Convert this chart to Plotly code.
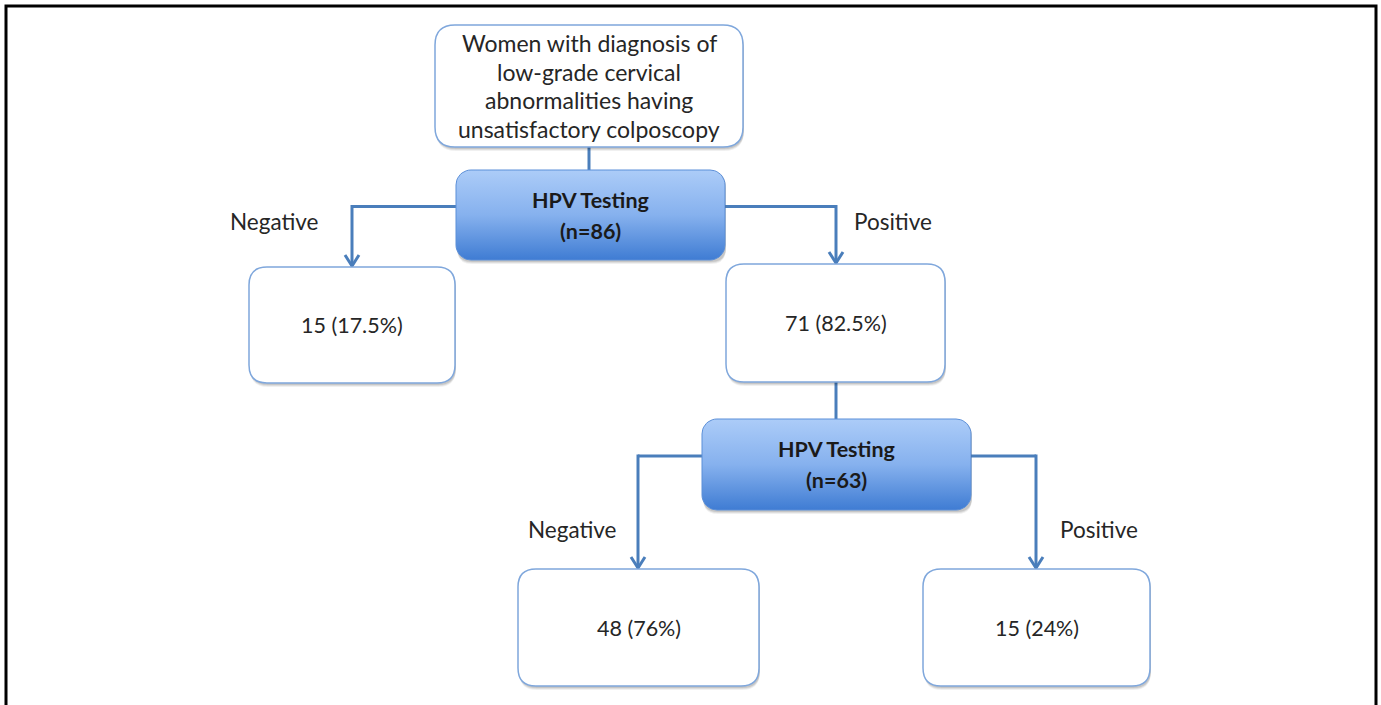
import math
import plotly.graph_objects as go

# ---------------- data ----------------
root_lines = ["Women with diagnosis of", "low-grade cervical",
              "abnormalities having", "unsatisfactory colposcopy"]
test_title = "HPV Testing"
test_n = [86, 63]
result_counts = [15, 71, 48, 15]
result_pcts = ["17.5%", "82.5%", "76%", "24%"]
branch_labels = ["Negative", "Positive", "Negative", "Positive"]

# ---------------- layout (pixel geometry) ----------------
W, H = 1381, 705
root_box = (435, 25, 743, 147)
test_boxes = [(456, 170, 725, 260), (702, 419, 971, 510)]
result_boxes = [(249, 267, 455, 383), (726, 264, 945, 382),
                (518, 569, 759, 686), (923, 569, 1150, 686)]
branch_x = [352, 836, 638, 1036]          # x of the down-going arrow legs
branch_label_pos = [(274, 221), (893, 221), (572, 529), (1099, 529)]

FONT = "Lato, 'Open Sans', sans-serif"
TXT = "#262626"
LINE = "#4a7ebb"
BOX_EDGE = "#7fa7dc"


def rr_path(x0, y0, x1, y1, r):
    return (f"M{x0+r},{y0} L{x1-r},{y0} Q{x1},{y0} {x1},{y0+r} "
            f"L{x1},{y1-r} Q{x1},{y1} {x1-r},{y1} L{x0+r},{y1} "
            f"Q{x0},{y1} {x0},{y1-r} L{x0},{y0+r} Q{x0},{y0} {x0+r},{y0} Z")


def rr_points(x0, y0, x1, y1, r, n=10):
    xs, ys = [], []
    corners = [(x1 - r, y0 + r, -90, 0), (x1 - r, y1 - r, 0, 90),
               (x0 + r, y1 - r, 90, 180), (x0 + r, y0 + r, 180, 270)]
    for cx, cy, a0, a1 in corners:
        for i in range(n + 1):
            a = math.radians(a0 + (a1 - a0) * i / n)
            xs.append(cx + r * math.cos(a))
            ys.append(cy + r * math.sin(a))
    xs.append(xs[0]); ys.append(ys[0])
    return xs, ys


fig = go.Figure()
shapes = []
annotations = []


def shadow(box, r):
    x0, y0, x1, y1 = box
    for off, op in [(4, 0.06), (3, 0.08), (2, 0.10)]:
        shapes.append(dict(type="path", path=rr_path(x0 + 1, y0 + off, x1 + 1, y1 + off, r),
                           fillcolor=f"rgba(0,0,0,{op})", line=dict(width=0), layer="below"))


# frame border
shapes.append(dict(type="path", path=f"M6,{H+10} L6,6 L1376,6 L1376,{H+10}",
                   line=dict(color="black", width=3)))

# connectors
def seg(x0, y0, x1, y1):
    shapes.append(dict(type="line", x0=x0, y0=y0, x1=x1, y1=y1,
                       line=dict(color=LINE, width=3), layer="below"))

def arrowhead(x, y):
    shapes.append(dict(type="path", path=f"M{x-7},{y-11} L{x},{y} L{x+7},{y-11}",
                       line=dict(color=LINE, width=3), layer="below"))

cx_root = (root_box[0] + root_box[2]) / 2
seg(cx_root, root_box[3], cx_root, test_boxes[0][1])
cx_b = branch_x[1]
seg(cx_b, result_boxes[1][3], cx_b, test_boxes[1][1])

for t, tb in enumerate(test_boxes):
    ymid = (tb[1] + tb[3]) / 2 - 8.5
    for k in range(2):
        idx = 2 * t + k
        bx = branch_x[idx]
        edge = tb[0] if k == 0 else tb[2]
        top = result_boxes[idx][1] - 1
        seg(edge, ymid, bx, ymid)
        seg(bx, ymid - 1.5, bx, top)
        arrowhead(bx, top)

# white boxes
for box, r in [(root_box, 20)] + [(b, 18) for b in result_boxes]:
    shadow(box, r)
    shapes.append(dict(type="path", path=rr_path(*box, r), fillcolor="white",
                       line=dict(color=BOX_EDGE, width=1.5), layer="below"))

# gradient test boxes
for tb in test_boxes:
    shadow(tb, 15)
    xs, ys = rr_points(*tb, 15)
    fig.add_trace(go.Scatter(
        x=xs, y=ys, mode="lines", fill="toself",
        line=dict(color="#5b8fd8", width=1),
        fillgradient=dict(type="vertical", start=tb[1], stop=tb[3],
                          colorscale=[[0, "#acccf8"], [0.5, "#86b1ee"], [1, "#3f7cd3"]]),
        hoverinfo="skip", showlegend=False))

# texts
def txt(x, y, s, size=21, bold=False, color=TXT):
    annotations.append(dict(x=x, y=y, text=f"<b>{s}</b>" if bold else s, showarrow=False,
                            xanchor="center", yanchor="middle",
                            font=dict(family=FONT, size=size, color=color)))

ry = (root_box[1] + root_box[3]) / 2
for i, line in enumerate(root_lines):
    txt(cx_root, ry + (i - 1.5) * 28.8, line, size=23)

for tb, n in zip(test_boxes, test_n):
    cx, cy = (tb[0] + tb[2]) / 2, (tb[1] + tb[3]) / 2
    txt(cx, cy - 15.5, test_title, size=21.5, bold=True, color="#1a1a1a")
    txt(cx, cy + 15.5, f"(n={n})", size=21.5, bold=True, color="#1a1a1a")

for box, c, p in zip(result_boxes, result_counts, result_pcts):
    txt((box[0] + box[2]) / 2, (box[1] + box[3]) / 2, f"{c} ({p})", size=21.5)

for (x, y), lab in zip(branch_label_pos, branch_labels):
    txt(x, y, lab, size=22.5)

fig.update_layout(
    width=W, height=H, margin=dict(l=0, r=0, t=0, b=0),
    paper_bgcolor="white", plot_bgcolor="white",
    xaxis=dict(range=[0, W], visible=False, fixedrange=True),
    yaxis=dict(range=[H, 0], visible=False, fixedrange=True),
    shapes=shapes, annotations=annotations, showlegend=False,
)

fig.write_html("out.html", config={"displayModeBar": False, "staticPlot": True},
               post_script="document.body.style.margin='0';document.body.style.overflow='hidden';")
